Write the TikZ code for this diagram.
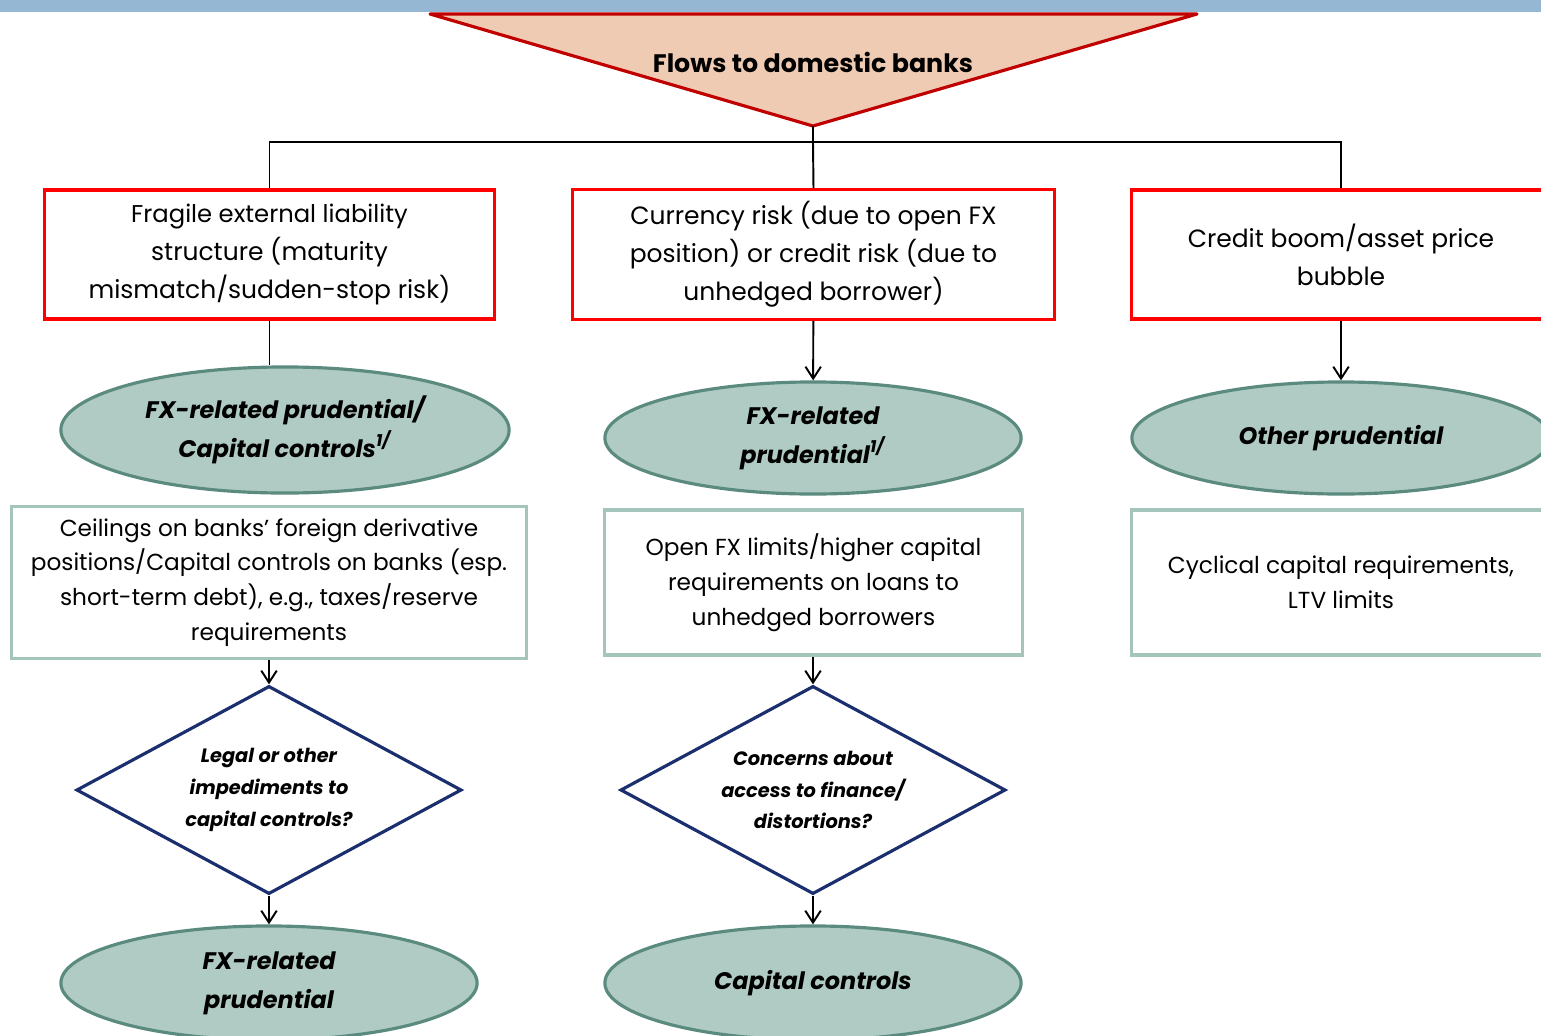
\documentclass[tikz,border=0pt]{standalone}
\usepackage{fontspec}
\setmainfont{Poppins}
\usetikzlibrary{shapes.geometric,arrows.meta}

\definecolor{barblue}{RGB}{149,183,212}
\definecolor{trifill}{RGB}{240,203,179}
\definecolor{trired}{RGB}{192,0,0}
\definecolor{boxred}{RGB}{255,0,0}
\definecolor{ellfill}{RGB}{176,203,195}
\definecolor{elldraw}{RGB}{91,138,127}
\definecolor{tealbox}{RGB}{165,196,188}
\definecolor{navy}{RGB}{27,46,110}

\tikzset{
  riskbox/.style={draw=boxred, line width=0.9pt, minimum height=1.29cm, align=center,
    font=\fontsize{7.1}{10.8}\selectfont},
  toolbox/.style={draw=tealbox, line width=0.9pt, minimum height=1.45cm, align=center,
    font=\fontsize{6.6}{9.9}\selectfont},
  policy/.style={ellipse, draw=elldraw, fill=ellfill, line width=0.9pt, align=center,
    inner sep=0pt, font=\fontsize{6.8}{11}\selectfont\bfseries\itshape},
  question/.style={diamond, draw=navy, line width=0.9pt, align=center, aspect=1.85,
    inner sep=0pt, font=\fontsize{5.5}{9}\selectfont\bfseries\itshape},
  link/.style={line width=0.55pt},
  arrow/.style={link, -{Straight Barb[length=3.4pt, width=4.4pt]}}
}

\begin{document}
\begin{tikzpicture}[x=0.01cm, y=-0.01cm]
\useasboundingbox (0,0) rectangle (1541,1036);
\clip (0,0) rectangle (1541,1036);

\fill [barblue] (0,0) rectangle (1541,12);

\draw [trired, fill=trifill, line width=0.9pt, line join=round]
(430,14) -- (1197,14) -- (813,126) -- cycle;
\node (flows) at (813,62) {\fontsize{7.2}{8}\selectfont\bfseries Flows to domestic banks};
\coordinate (tip) at (813,126);
\coordinate (split) at (813,142);

\node [riskbox, minimum width=4.49cm] (fragile) at (269.5,254.5)
{\fontsize{6.9}{10.8}\selectfont Fragile external liability\\ structure (maturity\\ mismatch/sudden-stop risk)};
\node [riskbox, minimum width=4.81cm] (currency) at (813.5,254.5)
{Currency risk (due to open FX\\ position) or credit risk (due to\\ unhedged borrower)};
\node [riskbox, minimum width=4.18cm] (credit) at (1341,254.5)
{Credit boom/asset price\\ bubble};

\draw [link] (tip) -- (split);
\draw [link] (fragile.north) |- (split) -| (credit.north);
\draw [link] (split) -- (currency.north);

\node [policy, minimum width=4.48cm, minimum height=1.26cm] (fxcap) at (285,430)
{FX-related prudential/\\ Capital controls\textsuperscript{1/}};
\node [policy, minimum width=4.16cm, minimum height=1.12cm] (fxpru) at (813,438)
{FX-related\\ prudential\textsuperscript{1/}};
\node [policy, minimum width=4.18cm, minimum height=1.12cm] (other) at (1341,438)
{Other prudential};

\draw [link] (fragile.south) -- (fragile.south |- fxcap.north);
\draw [arrow] (currency) -- (fxpru);
\draw [arrow] (credit) -- (other);

\node [toolbox, minimum width=5.14cm] (ceilings) at (269,582.5)
{Ceilings on banks' foreign derivative\\ positions/Capital controls on banks (esp.\\
short-term debt), e.g., taxes/reserve\\ requirements};
\node [toolbox, minimum width=4.17cm] (openfx) at (813.5,582.5)
{Open FX limits/higher capital\\ requirements on loans to\\ unhedged borrowers};
\node [toolbox, minimum width=4.18cm] (cyclical) at (1341,582.5)
{Cyclical capital requirements,\\ LTV limits};

\node [question, minimum width=3.85cm, minimum height=2.08cm] (legal) at (269,790)
{Legal or other\\ impediments to\\ capital controls?};
\node [question, minimum width=3.85cm, minimum height=2.08cm] (access) at (813,790)
{Concerns about\\ access to finance/\\ distortions?};

\draw [arrow] (ceilings.south -| legal.north) -- (legal.north);
\draw [arrow] (openfx.south -| access.north) -- (access.north);

\node [policy, minimum width=4.16cm, minimum height=1.14cm] (fxonly) at (269,983)
{FX-related\\ prudential};
\node [policy, minimum width=4.16cm, minimum height=1.14cm] (capctrl) at (813,983)
{Capital controls};

\draw [arrow] (legal) -- (fxonly);
\draw [arrow] (access) -- (capctrl);
\end{tikzpicture}
\end{document}
